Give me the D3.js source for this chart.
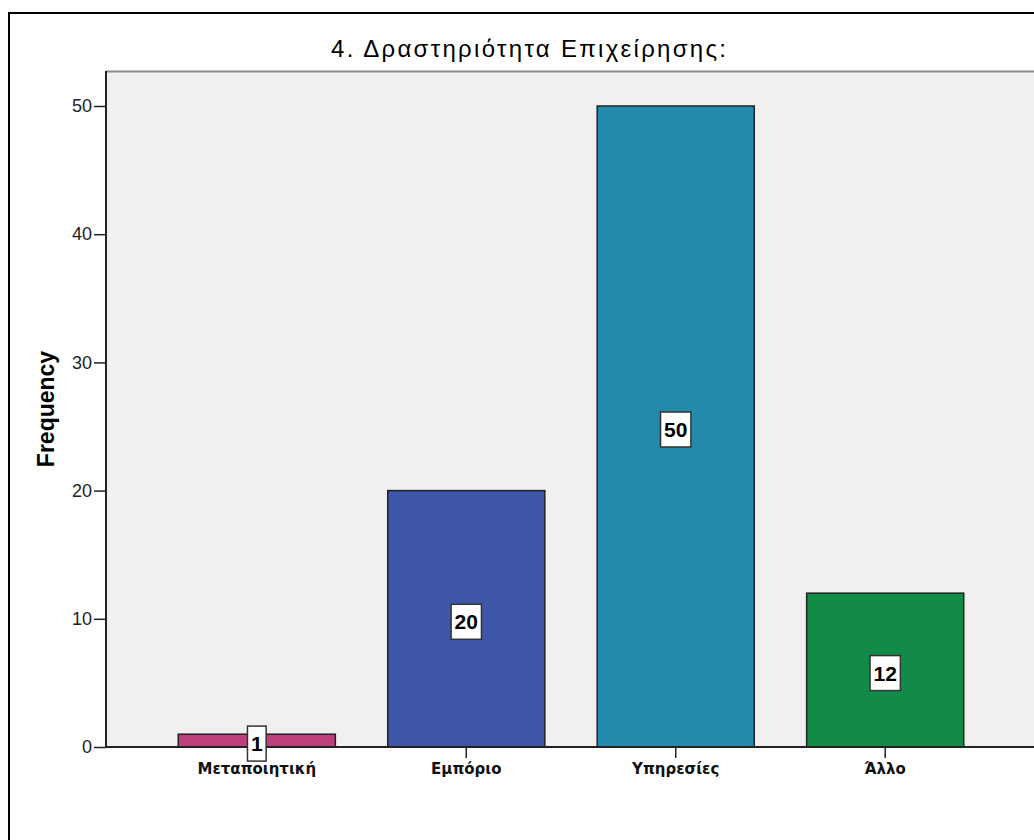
<!DOCTYPE html>
<html>
<head>
<meta charset="utf-8">
<script src="https://cdn.jsdelivr.net/npm/d3@7"></script>
<style>
  html, body { margin: 0; padding: 0; background: #fff; }
  svg { display: block; }
</style>
</head>
<body>
<div id="chart"></div>
<script>
// Frequency of business activity categories
const categories = ["Μεταποιητική", "Εμπόριο", "Υπηρεσίες", "Άλλο"];
const frequencies = [1, 20, 50, 12];
const barColors = ["#bd3f7e", "#3d56a8", "#248aab", "#128a48"];
const yTicks = [0, 10, 20, 30, 40, 50];
const title = "4. Δραστηριότητα Επιχείρησης:";
const yLabel = "Frequency";

const W = 1034, H = 840;
const plot = { left: 106, right: 1036, top: 71, bottom: 747 };

const svg = d3.select("#chart").append("svg")
  .attr("width", W).attr("height", H);

svg.append("rect").attr("width", W).attr("height", H).attr("fill", "#fff");

// outer frame (runs past the right and bottom edges)
svg.append("rect")
  .attr("x", 9).attr("y", 13)
  .attr("width", 1040).attr("height", 840)
  .attr("fill", "none").attr("stroke", "#000").attr("stroke-width", 2);

const x = d3.scaleBand()
  .domain(categories)
  .range([plot.left, plot.right])
  .paddingInner(0.25)
  .paddingOuter(0.345);

const y = d3.scaleLinear()
  .domain([0, 50 * (plot.bottom - plot.top) / (plot.bottom - 106)])
  .range([plot.bottom, plot.top]);

// plot background
svg.append("rect")
  .attr("x", plot.left).attr("y", plot.top)
  .attr("width", plot.right - plot.left).attr("height", plot.bottom - plot.top)
  .attr("fill", "#f0f0f0");
svg.append("line")
  .attr("x1", plot.left).attr("x2", plot.right)
  .attr("y1", plot.top + 0.5).attr("y2", plot.top + 0.5)
  .attr("stroke", "#8a8a8a").attr("stroke-width", 2);

// title
svg.append("text")
  .attr("x", 331).attr("y", 57)
  .attr("textLength", 395)
  .attr("lengthAdjust", "spacing")
  .attr("font-family", "Liberation Sans, Arial, sans-serif")
  .attr("font-size", 24)
  .attr("fill", "#000")
  .text(title);

// bars
const fmt = d3.format("d");
svg.append("g").selectAll("rect")
  .data(categories)
  .join("rect")
  .attr("x", d => x(d))
  .attr("y", (d, i) => y(frequencies[i]))
  .attr("width", x.bandwidth())
  .attr("height", (d, i) => y(0) - y(frequencies[i]))
  .attr("fill", (d, i) => barColors[i])
  .attr("stroke", "#222")
  .attr("stroke-width", 1.5);

// y axis
const yAxis = svg.append("g")
  .attr("transform", `translate(${plot.left},0)`)
  .call(d3.axisLeft(y).tickValues(yTicks).tickFormat(fmt).tickSize(12).tickPadding(2));
yAxis.select(".domain").remove();
yAxis.selectAll(".tick line").attr("stroke", "#222").attr("stroke-width", 1.5);
yAxis.selectAll(".tick text")
  .attr("font-family", "Liberation Sans, Arial, sans-serif")
  .attr("font-size", 18)
  .attr("fill", "#222");
svg.append("line")
  .attr("x1", plot.left).attr("x2", plot.left)
  .attr("y1", plot.top).attr("y2", plot.bottom)
  .attr("stroke", "#222").attr("stroke-width", 2);

// x axis
const xAxis = svg.append("g")
  .attr("transform", `translate(0,${plot.bottom})`)
  .call(d3.axisBottom(x).tickSize(11).tickPadding(5));
xAxis.select(".domain").remove();
xAxis.selectAll(".tick line").attr("stroke", "#222").attr("stroke-width", 1.5);
xAxis.selectAll(".tick text")
  .attr("font-family", "DejaVu Sans, sans-serif")
  .attr("font-weight", "bold")
  .attr("font-size", 15)
  .attr("fill", "#111");
svg.append("line")
  .attr("x1", plot.left).attr("x2", plot.right)
  .attr("y1", plot.bottom).attr("y2", plot.bottom)
  .attr("stroke", "#222").attr("stroke-width", 2);

// y axis title
svg.append("text")
  .attr("transform", `translate(54,409) rotate(-90)`)
  .attr("text-anchor", "middle")
  .attr("font-family", "Liberation Sans, Arial, sans-serif")
  .attr("font-weight", "bold")
  .attr("font-size", 23)
  .attr("fill", "#000")
  .text(yLabel);

// value labels in boxes at the middle of each bar
const labels = svg.append("g").selectAll("g")
  .data(categories)
  .join("g")
  .attr("transform", (d, i) =>
    `translate(${x(d) + x.bandwidth() / 2},${y(frequencies[i] / 2) + 3})`);
labels.each(function (d, i) {
  const g = d3.select(this);
  const t = g.append("text")
    .attr("text-anchor", "middle")
    .attr("dy", "0.36em")
    .attr("font-family", "Liberation Sans, Arial, sans-serif")
    .attr("font-weight", "bold")
    .attr("font-size", 21)
    .attr("fill", "#000")
    .text(fmt(frequencies[i]));
  const w = t.node().getComputedTextLength() + 7;
  g.insert("rect", "text")
    .attr("x", -w / 2).attr("y", -17.5)
    .attr("width", w).attr("height", 35)
    .attr("fill", "#fff")
    .attr("stroke", "#333").attr("stroke-width", 1.5);
});
</script>
</body>
</html>
